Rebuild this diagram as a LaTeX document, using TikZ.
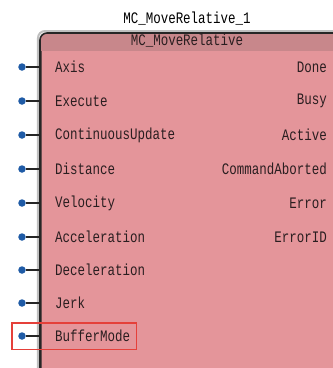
\documentclass[tikz,border=0pt]{standalone}
\usepackage{fontspec}
\setmainfont{Liberation Mono}
\newfontfamily\pinfont[FakeStretch=0.78]{Liberation Mono}
\usetikzlibrary{positioning,fit}
\definecolor{fbbody}{HTML}{E4959A}
\definecolor{fbhead}{HTML}{C8878B}
\definecolor{fbtext}{HTML}{2A1E20}
\definecolor{pinblue}{HTML}{1F5BA6}
\definecolor{markred}{HTML}{E5403A}
\tikzstyle{pindot}=[circle,fill=pinblue,inner sep=0pt,minimum size=7.5pt]
\tikzstyle{pinname}=[inner sep=0pt,text=fbtext,font=\pinfont\fontsize{16}{16}\selectfont]
\newcommand{\newInput}[3]{\node[pindot](d#1) at (22,#3) {};
  \node[pinname,anchor=west](#1) at (55,#3) {#2};
  \draw[line width=1.3pt,black!85] (d#1) -- (d#1 -| fb.west);}
\newcommand{\newOutput}[3]{\node[pinname,anchor=east](#1) at (327,#3) {#2};}

\begin{document}
\begin{tikzpicture}[x=1pt,y=-1pt]
  \useasboundingbox (0,0) rectangle (333,368);
  \clip (0,0) rectangle (333,368);
  % function block
  \draw[black!25,line width=2pt,rounded corners=7] (38,31) rectangle (362,375);
  \node[draw=black!85,line width=1.6pt,rounded corners=7,fill=fbbody,
    minimum width=322pt,minimum height=342pt,anchor=north west] (fb) at (40,33) {};
  \begin{scope}
    \clip (40,33) rectangle (362,50);
    \fill[fbhead,rounded corners=7] (fb.north west) rectangle (fb.south east);
  \end{scope}
  \draw[black!85,line width=1.6pt,rounded corners=7] (fb.south west) rectangle (fb.north east);
  \node[pinname,text=black] (inst) at (187,19) {MC\_MoveRelative\_1};
  \node[pinname] (ftype) at (187,41) {MC\_MoveRelative};
  % inputs
  \newInput{Axis}{Axis}{67}
  \newInput{Execute}{Execute}{101}
  \newInput{ContUpd}{ContinuousUpdate}{135}
  \newInput{Dist}{Distance}{169}
  \newInput{Velo}{Velocity}{203}
  \newInput{Acc}{Acceleration}{237}
  \newInput{Dec}{Deceleration}{270}
  \newInput{Jerk}{Jerk}{303}
  \newInput{BufMode}{BufferMode}{336}
  % outputs
  \newOutput{Done}{Done}{67}
  \newOutput{Busy}{Busy}{101}
  \newOutput{Active}{Active}{135}
  \newOutput{CmdAbort}{CommandAborted}{169}
  \newOutput{Error}{Error}{203}
  \newOutput{ErrorID}{ErrorID}{237}
  % highlight
  \node[draw=markred,line width=1.2pt,inner xsep=6pt,inner ysep=7pt,
    fit=(dBufMode)(BufMode)] (mark) {};
\end{tikzpicture}
\end{document}
